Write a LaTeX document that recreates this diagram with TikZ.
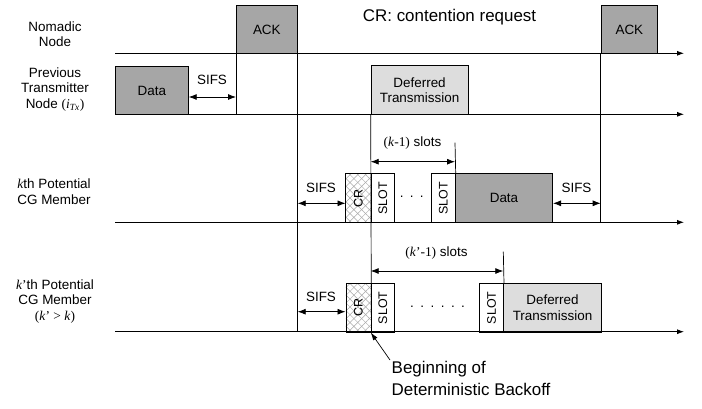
\documentclass[tikz,border=0pt]{standalone}
\usepackage{fontspec}
\setmainfont{Liberation Sans}
\newfontfamily\tnr{Liberation Serif}
\usepackage{graphicx}
\usetikzlibrary{arrows.meta,patterns.meta}
\definecolor{darkfill}{HTML}{A6A6A6}
\definecolor{lightfill}{HTML}{DDDDDD}
\definecolor{hatch}{HTML}{A8A8A8}
\tikzset{
  txt/.style={font=\fontsize{13.5}{15.5}\selectfont, inner sep=0pt, align=center},
  big/.style={font=\fontsize{17}{22}\selectfont, inner sep=0pt, align=left},
  blk/.style={draw, line width=0.7pt, anchor=north west, inner sep=0pt, align=center, font=\fontsize{13.5}{15.5}\selectfont},
  dark/.style={blk, fill=darkfill},
  light/.style={blk, fill=lightfill},
  slotbox/.style={blk, fill=white, font=\fontsize{12.5}{14}\selectfont},
  crbox/.style={blk, font=\fontsize{12.5}{14}\selectfont,
    preaction={fill=white},
    preaction={pattern={Lines[angle=45,distance=5.5bp,line width=0.5pt]}, pattern color=hatch},
    pattern={Lines[angle=-45,distance=5.5bp,line width=0.5pt]}, pattern color=hatch},
  axis/.style={line width=0.8pt, -{Latex[length=7bp,width=5bp]}},
  vline/.style={line width=0.7pt},
  dimarrow/.style={line width=0.8pt, {Latex[length=8bp,width=6bp]}-{Latex[length=8bp,width=6bp]}},
  ptr/.style={line width=0.7pt, -{Latex[length=8bp,width=5bp]}},
}
\begin{document}
\begin{tikzpicture}[x=1bp,y=-1bp]
\useasboundingbox (0,0) rectangle (702,408);

% timelines
\coordinate (a1s) at (115,53.3);  \coordinate (a1e) at (684,53.3);
\coordinate (a2s) at (115,114.3); \coordinate (a2e) at (684,114.3);
\coordinate (a3s) at (115,222.3); \coordinate (a3e) at (684,222.3);
\coordinate (a4s) at (115,331.7); \coordinate (a4e) at (684,331.7);

% boxes
\node[dark, minimum width=61bp, minimum height=48.3bp] (ack1) at (236,5) {ACK};
\node[dark, minimum width=56.6bp, minimum height=48.3bp] (ack2) at (600.7,5) {ACK};
\node[dark, minimum width=73bp, minimum height=48.3bp] (data1) at (115,66) {Data};
\node[light, minimum width=97bp, minimum height=49bp] (def1) at (370.7,65.3) {Deferred\\Transmission};

\node[crbox, minimum width=25.2bp, minimum height=49bp] (cr1) at (345.5,173.3) {\rotatebox{90}{CR}};
\node[slotbox, minimum width=23.6bp, minimum height=49bp] (sl1a) at (370.7,173.3) {\rotatebox{90}{SLOT}};
\node[slotbox, minimum width=24bp, minimum height=49bp] (sl1b) at (431,173.3) {\rotatebox{90}{SLOT}};
\node[dark, minimum width=97.3bp, minimum height=49bp] (data2) at (455,173.3) {Data};

\node[crbox, minimum width=25.2bp, minimum height=48.4bp] (cr2) at (345.5,283.3) {\rotatebox{90}{CR}};
\node[slotbox, minimum width=23.6bp, minimum height=48.4bp] (sl2a) at (370.7,283.3) {\rotatebox{90}{SLOT}};
\node[slotbox, minimum width=24bp, minimum height=48.4bp] (sl2b) at (479.3,283.3) {\rotatebox{90}{SLOT}};
\node[light, minimum width=97.7bp, minimum height=48.4bp] (def2) at (503.3,283.3) {Deferred\\Transmission};

% axes
\draw[axis] (a1s) -- (a1e);
\draw[axis] (a2s) -- (a2e);
\draw[axis] (a3s) -- (a3e);
\draw[axis] (a4s) -- (a4e);

% vertical guide lines
\draw[vline] (ack1.south west) -- (ack1.south west |- a2s);
\draw[vline] (ack1.south east) -- (ack1.south east |- a4s);
\draw[vline] (def1.south west) -- (cr2.south east);
\draw[vline] (ack2.south west) -- (ack2.south west |- a3s);

% SIFS arrows
\coordinate (y1) at (0,97);
\coordinate (y2) at (0,203.3);
\coordinate (y3) at (0,311.7);
\draw[dimarrow] (data1.south east |- y1) -- (ack1.south west |- y1);
\draw[dimarrow] (ack1.south east |- y2) -- (cr1.south west |- y2);
\draw[dimarrow] (data2.south east |- y2) -- (ack2.south west |- y2);
\draw[dimarrow] (ack1.south east |- y3) -- (cr2.south west |- y3);
\node[txt] (sifs1) at (212,79.5) {SIFS};
\node[txt] (sifs2) at (321,188) {SIFS};
\node[txt] (sifs3) at (576.5,188) {SIFS};
\node[txt] (sifs4) at (321,297) {SIFS};

% slot spans
\coordinate (t1) at (455,142.7);
\coordinate (t2) at (503.3,251.7);
\draw[vline] (t1) -- (sl1b.north east);
\draw[vline] (t2) -- (sl2b.north east);
\coordinate (y4) at (0,161.7);
\coordinate (y5) at (0,271);
\draw[dimarrow] (sl1a.north west |- y4) -- (t1 |- y4);
\draw[dimarrow] (sl2a.north west |- y5) -- (t2 |- y5);
\node[txt] (k1) at (412.5,142.7) {{\tnr(\textit{k}-1)} slots};
\node[txt] (k2) at (436.5,253.5) {{\tnr(\textit{k}’-1)} slots};

% dots
\node[txt] (dots1) at (411.7,197) {.\hspace{6.3bp}.\hspace{6.3bp}.};
\node[txt] (dots2) at (437.5,307) {.\hspace{6.5bp}.\hspace{6.5bp}.\hspace{6.5bp}.\hspace{6.5bp}.\hspace{6.5bp}.};

% left labels
\node[txt] (lab1) at (55,34) {Nomadic\\Node};
\node[txt] (lab2) at (55,89.5) {Previous\\Transmitter\\Node {\tnr(\textit{i}\textsubscript{\textit{Tx}})}};
\node[txt] (lab3) at (54,191.5) {{\tnr\textit{k}}th Potential\\CG Member};
\node[txt] (lab4) at (55,301.5) {{\tnr\textit{k}’}th Potential\\CG Member\\{\tnr(\textit{k}’ \textgreater{} \textit{k})}};

% title and annotation
\node[big, anchor=west] (title) at (362.7,17.5) {CR: contention request};
\node[big, anchor=north west] (note) at (391.5,361) {Beginning of\\Deterministic Backoff};
\coordinate (pt) at (390,360);
\draw[ptr] (pt) -- (sl2a.south west);
\end{tikzpicture}
\end{document}
